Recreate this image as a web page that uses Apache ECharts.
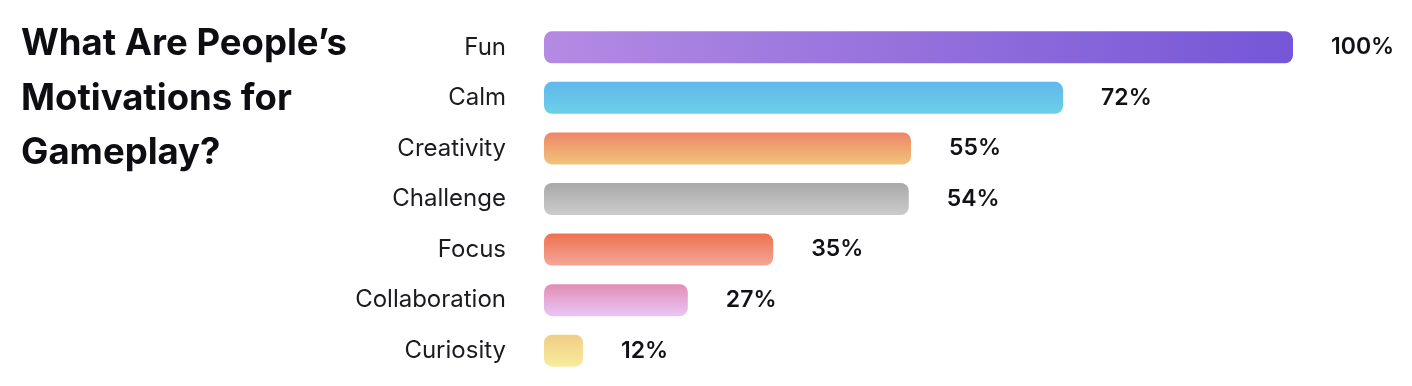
<!DOCTYPE html>
<html>
<head>
<meta charset="utf-8">
<script src="https://cdn.jsdelivr.net/npm/echarts@6/dist/echarts.min.js"></script>
<style>
html,body{margin:0;padding:0;background:#fff;}
#chart{width:1412px;height:386px;}
</style>
</head>
<body>
<div id="chart"></div>
<script>
const titleText = 'What Are People\u2019s\nMotivations for\nGameplay?';
const categories = ['Fun', 'Calm', 'Creativity', 'Challenge', 'Focus', 'Collaboration', 'Curiosity'];
const barValues = [100, 69.3, 49, 48.7, 30.6, 19.2, 5.2];
const valueLabels = ['100%', '72%', '55%', '54%', '35%', '27%', '12%'];
const gradients = [
  {dir: 'h', from: '#b48ae3', to: '#7556d6'},
  {dir: 'v', from: '#61b8ed', to: '#6bd0e8'},
  {dir: 'v', from: '#ee8567', to: '#f0c47b'},
  {dir: 'v', from: '#a8a8a8', to: '#cccccc'},
  {dir: 'v', from: '#ee7250', to: '#f3a698'},
  {dir: 'v', from: '#e28db4', to: '#e9c6f6'},
  {dir: 'v', from: '#f1cd85', to: '#f7ed9d'}
];

const data = barValues.map((v, i) => {
  const g = gradients[i];
  const grad = g.dir === 'h'
    ? new echarts.graphic.LinearGradient(0, 0, 1, 0, [{offset: 0, color: g.from}, {offset: 1, color: g.to}])
    : new echarts.graphic.LinearGradient(0, 0, 0, 1, [{offset: 0, color: g.from}, {offset: 1, color: g.to}]);
  return {value: v, itemStyle: {color: grad}};
});

const chart = echarts.init(document.getElementById('chart'), null, {renderer: 'canvas'});
chart.setOption({
  animation: false,
  backgroundColor: '#ffffff',
  title: {
    text: titleText,
    left: 16,
    top: 12,
    textStyle: {
      fontFamily: 'Inter',
      fontWeight: 700,
      fontSize: 36.5,
      lineHeight: 54.5,
      color: '#0d0d12'
    }
  },
  grid: {left: 544, right: 119, top: 22, bottom: 10, containLabel: false},
  xAxis: {
    type: 'value', min: 0, max: 100,
    show: false
  },
  yAxis: {
    type: 'category',
    data: categories,
    inverse: true,
    axisLine: {show: false},
    axisTick: {show: false},
    splitLine: {show: false},
    axisLabel: {
      margin: 38,
      fontFamily: 'Inter',
      fontSize: 24,
      color: '#1a1a1f'
    }
  },
  series: [{
    type: 'bar',
    data: data,
    barWidth: 32,
    itemStyle: {borderRadius: 8},
    label: {
      show: true,
      position: 'right',
      distance: 38,
      formatter: p => valueLabels[p.dataIndex],
      fontFamily: 'Inter',
      fontWeight: 600,
      fontSize: 23,
      color: '#111116'
    }
  }]
});
</script>
</body>
</html>
